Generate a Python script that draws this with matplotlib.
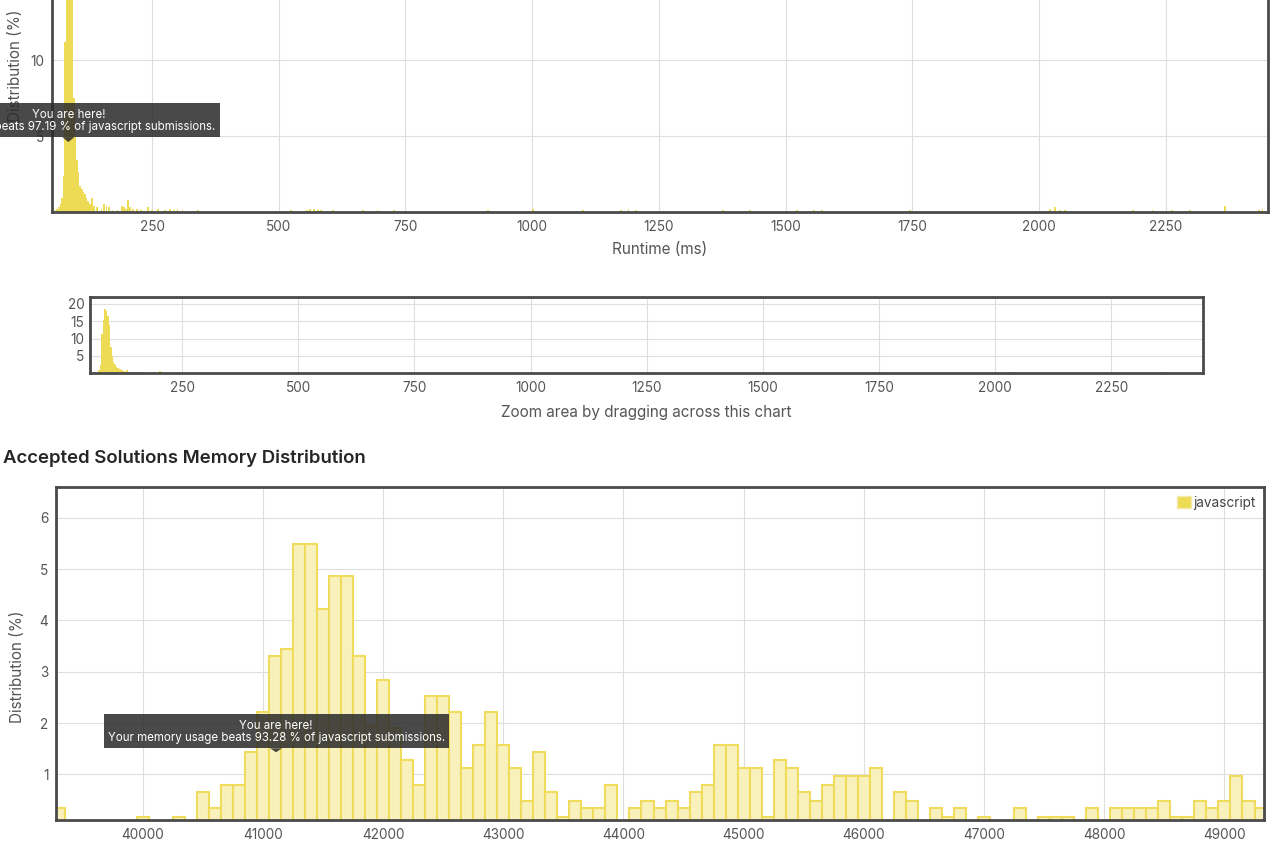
import matplotlib
matplotlib.use('Agg')
import matplotlib.pyplot as plt
from matplotlib.patches import Rectangle, Polygon, Patch

plt.rcParams['font.family'] = ['Inter', 'DejaVu Sans']

# ---------------- data ----------------
runtime_ms = [60, 63, 66, 69, 72, 75, 78, 81, 84, 87, 90, 93, 96, 99, 102, 105, 108, 111,
              114, 117, 120, 124, 128, 132, 136, 141, 150, 155, 160, 165, 172, 182, 190,
              194, 198, 203, 207, 212, 220, 228, 242, 250, 262, 275, 285, 292, 300, 310,
              340, 524, 556, 562, 570, 578, 584, 607, 666, 695, 728, 913, 1002, 1100,
              1175, 1190, 1205, 1377, 1430, 1522, 1556, 1572, 1745, 2022, 2032, 2042,
              2052, 2186, 2224, 2263, 2298, 2367, 2434, 2441]
runtime_pct = [0.1, 0.2, 0.3, 0.5, 0.9, 2.4, 11.2, 15.5, 18.4, 18.0, 16.5, 14.0, 7.5, 5.0,
               3.4, 2.6, 1.7, 1.5, 1.3, 1.2, 0.9, 0.7, 0.5, 0.9, 0.4, 0.3, 0.2, 0.5, 0.4,
               0.3, 0.15, 0.1, 0.4, 0.3, 0.2, 0.8, 0.3, 0.2, 0.2, 0.1, 0.3, 0.1, 0.2, 0.15,
               0.2, 0.15, 0.2, 0.1, 0.15, 0.15, 0.15, 0.2, 0.2, 0.15, 0.1, 0.15, 0.15, 0.15,
               0.15, 0.15, 0.2, 0.15, 0.15, 0.2, 0.15, 0.15, 0.15, 0.15, 0.15, 0.15, 0.15,
               0.2, 0.3, 0.15, 0.15, 0.15, 0.15, 0.15, 0.15, 0.4, 0.15, 0.2]

memory_kb = [39300, 40000, 40300, 40500, 40600, 40700, 40800, 40900, 41000, 41100, 41200,
             41300, 41400, 41500, 41600, 41700, 41800, 41900, 42000, 42100, 42200, 42300,
             42400, 42500, 42600, 42700, 42800, 42900, 43000, 43100, 43200, 43300, 43400,
             43500, 43600, 43700, 43800, 43900, 44100, 44200, 44300, 44400, 44500, 44600,
             44700, 44800, 44900, 45000, 45100, 45200, 45300, 45400, 45500, 45600, 45700,
             45800, 45900, 46000, 46100, 46300, 46400, 46600, 46700, 46800, 47000, 47300,
             47500, 47600, 47700, 47900, 48100, 48200, 48300, 48400, 48500, 48600, 48700,
             48800, 48900, 49000, 49100, 49200, 49300]
memory_pct = [0.34, 0.17, 0.17, 0.65, 0.34, 0.80, 0.80, 1.43, 2.21, 3.30, 3.45,
              5.49, 5.49, 4.23, 4.86, 4.86, 3.30, 1.95, 2.83, 1.90, 1.27, 0.80,
              2.52, 2.52, 2.21, 1.12, 1.58, 2.21, 1.58, 1.12, 0.49, 1.43, 0.65,
              0.17, 0.49, 0.34, 0.34, 0.80, 0.34, 0.49, 0.34, 0.49, 0.34, 0.65,
              0.80, 1.58, 1.58, 1.12, 1.12, 0.17, 1.27, 1.12, 0.65, 0.49, 0.80,
              0.96, 0.96, 0.96, 1.12, 0.65, 0.49, 0.34, 0.17, 0.34, 0.17, 0.34,
              0.17, 0.17, 0.17, 0.34, 0.34, 0.34, 0.34, 0.34, 0.49, 0.17, 0.17,
              0.49, 0.34, 0.49, 0.96, 0.49, 0.34]

runtime_ticks = [250, 500, 750, 1000, 1250, 1500, 1750, 2000, 2250]
memory_ticks = [40000, 41000, 42000, 43000, 44000, 45000, 46000, 47000, 48000, 49000]

series_name = 'javascript'
title_text = 'Accepted Solutions Memory Distribution'
runtime_tip = ['You are here!', 'Your runtime beats 97.19 % of javascript submissions.']
memory_tip = ['You are here!', 'Your memory usage beats 93.28 % of javascript submissions.']

# ---------------- styles ----------------
W, H, DPI = 1280, 847, 100
YELLOW = '#eedb55'
FILL = '#f9f1bb'
EDGE = '#efdc5c'
FRAME = '#4a4a4a'
GRID = '#dedede'
TXT = '#555555'

fig = plt.figure(figsize=(W / DPI, H / DPI), dpi=DPI)
fig.patch.set_facecolor('white')


def px_axes(left, top, right, bottom):
    return fig.add_axes([left / W, (H - bottom) / H, (right - left) / W, (bottom - top) / H])


def style(ax, fs=9.8):
    for s in ax.spines.values():
        s.set_color(FRAME)
        s.set_linewidth(2.0)
    ax.grid(True, color=GRID, linewidth=0.8)
    ax.set_axisbelow(True)
    ax.tick_params(length=0, labelsize=fs, labelcolor=TXT, pad=5.5)


# ---- top: runtime distribution (partly out of view) ----
ax1 = px_axes(52, -92, 1268, 212)
ax1.bar(runtime_ms, runtime_pct, width=3.4, color=YELLOW, linewidth=0)
ax1.set_xlim(52.5, 2452)
ax1.set_ylim(0, 20)
ax1.set_xticks(runtime_ticks)
ax1.set_yticks([5, 10, 15, 20])
style(ax1)
ax1.set_xlabel('Runtime (ms)', fontsize=11, color=TXT, labelpad=6)
ax1.set_ylabel('Distribution (%)', fontsize=11, color=TXT)
ax1.yaxis.set_label_coords(-0.024, 0.48)

# ---- middle: navigator ----
ax2 = px_axes(90, 297, 1203, 373.3)
ax2.bar(runtime_ms, runtime_pct, width=4.6, color=YELLOW, linewidth=0)
ax2.set_xlim(51.7, 2447)
ax2.set_ylim(0, 22)
ax2.set_xticks(runtime_ticks)
ax2.set_yticks([5, 10, 15, 20])
style(ax2)
ax2.tick_params(axis='y', pad=4)
ax2.set_xlabel('Zoom area by dragging across this chart', fontsize=11, color=TXT, labelpad=7)

# ---- bottom: memory distribution ----
fig.text(3 / W, (H - 458) / H, title_text, fontsize=13.4, fontweight='semibold',
         color='#262626', ha='left', va='center')

ax3 = px_axes(56, 487, 1264, 820)
ax3.bar(memory_kb, memory_pct, width=100, color=FILL, edgecolor=EDGE, linewidth=1.5)
ax3.set_xlim(39279, 49329)
ax3.set_ylim(0.11, 6.6)
ax3.set_xticks(memory_ticks)
ax3.set_yticks([1, 2, 3, 4, 5, 6])
style(ax3)
ax3.set_ylabel('Distribution (%)', fontsize=11, color=TXT)
ax3.yaxis.set_label_coords(-0.0257, 0.46)
handle = Patch(facecolor=YELLOW, edgecolor='#f3e9a8', linewidth=1.0)
ax3.legend([handle], [series_name], loc='upper right', frameon=False, fontsize=9.8,
           handlelength=1.0, handleheight=1.0, handletextpad=0.15,
           borderaxespad=0.25, labelcolor='#444444')

# ---- tooltips on an overlay in pixel units ----
ov = fig.add_axes([0, 0, 1, 1])
ov.set_xlim(0, W)
ov.set_ylim(0, H)
ov.axis('off')
ov.set_zorder(10)


def tooltip(ax, x, y, half_l, half_r, lines, gap):
    tx, ty = ax.transData.transform((x, y))
    bottom = ty + gap
    top = bottom + 34
    ov.add_patch(Rectangle((tx - half_l, bottom), half_l + half_r, 34,
                           facecolor='#2b2b2b', alpha=0.86, edgecolor='none'))
    ov.add_patch(Polygon([(tx - 6, bottom), (tx + 6, bottom), (tx, ty)], closed=True,
                         facecolor='#2b2b2b', alpha=0.86, edgecolor='none'))
    ov.text(tx, top - 11.5, lines[0], color='white', fontsize=8.3, ha='center', va='center')
    ov.text(tx, top - 23.5, lines[1], color='white', fontsize=8.3, ha='center', va='center')


tooltip(ax1, 84.7, 4.6, 152, 152, runtime_tip, 5)
tooltip(ax3, 41110, 1.43, 172, 173, memory_tip, 4)

fig.savefig('out.png', dpi=DPI)
